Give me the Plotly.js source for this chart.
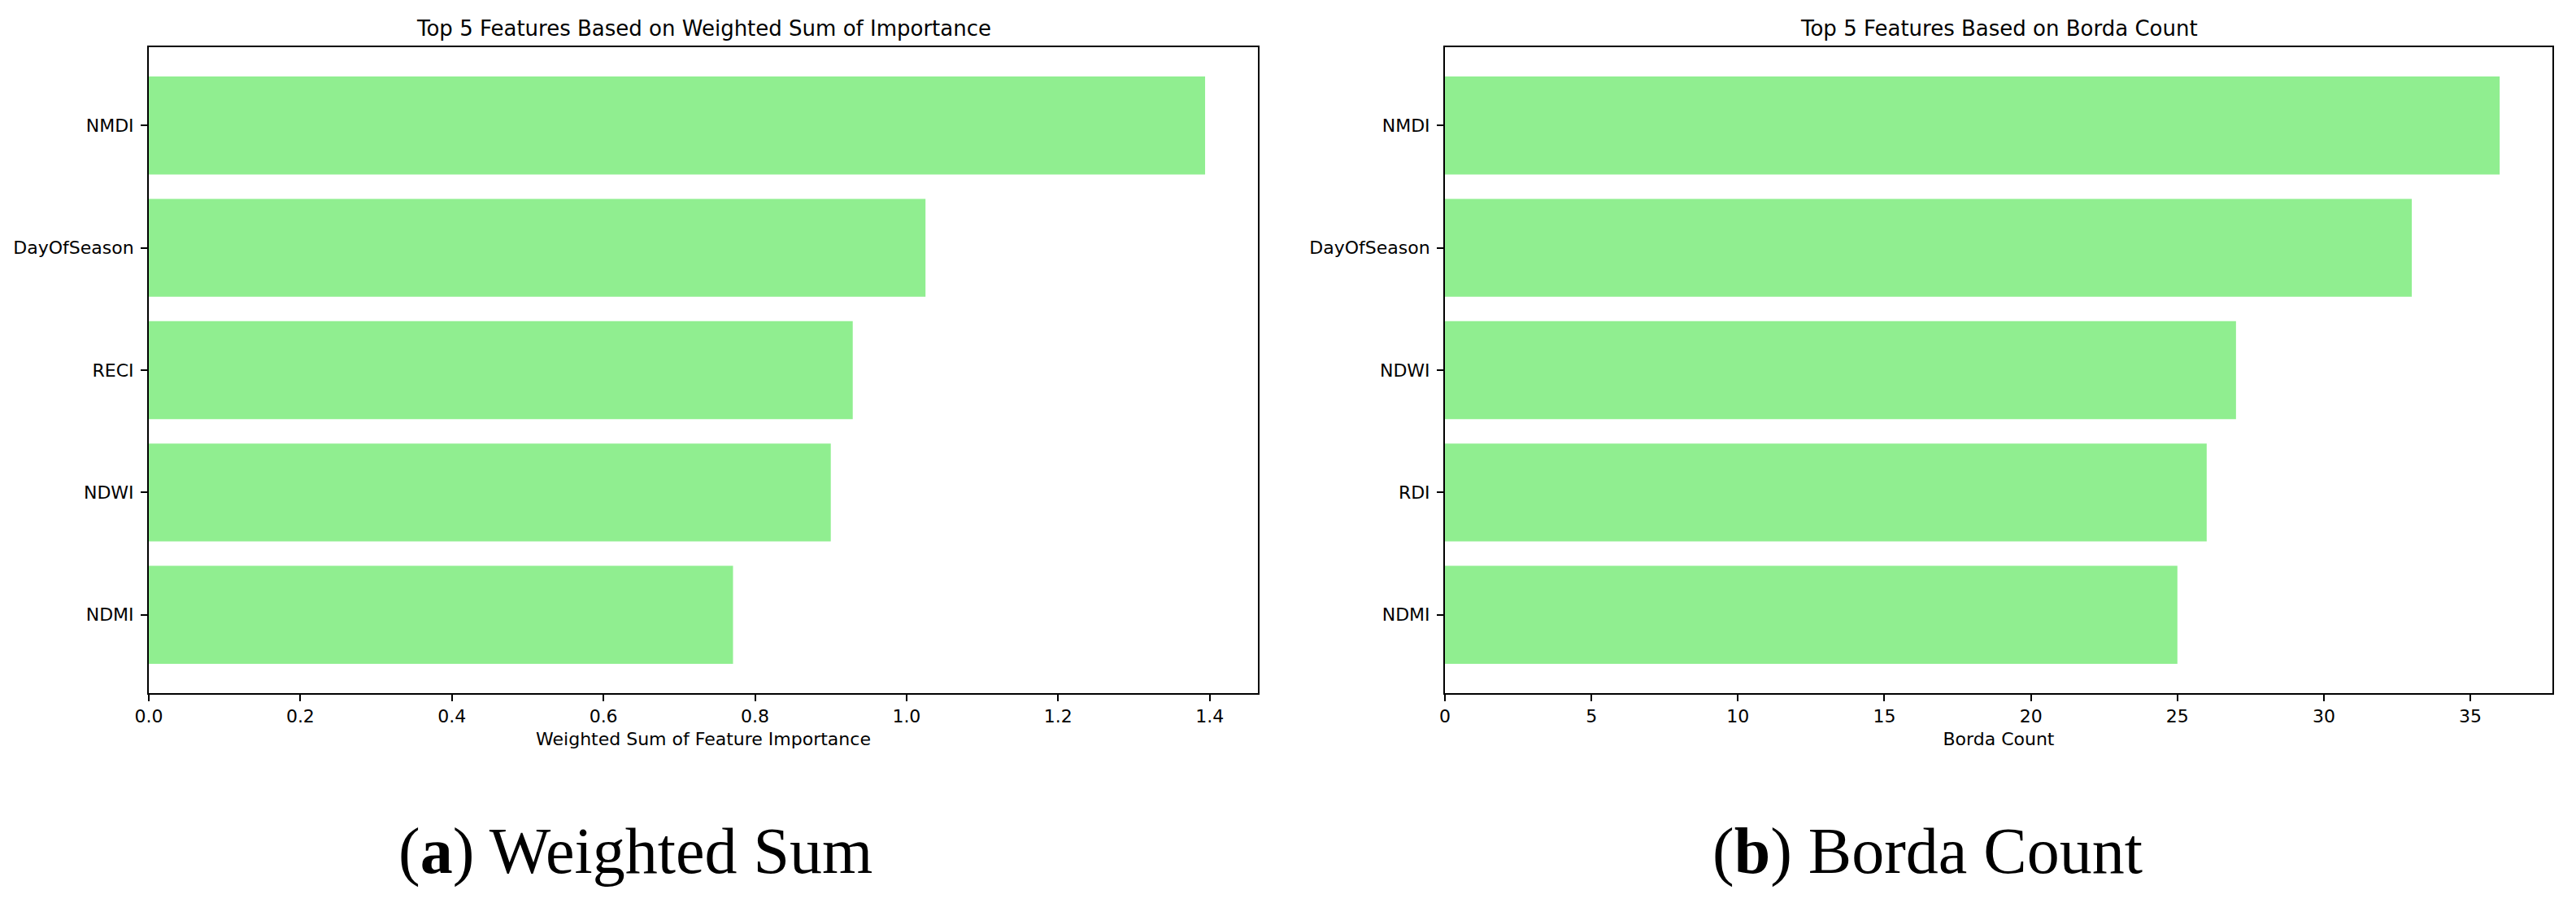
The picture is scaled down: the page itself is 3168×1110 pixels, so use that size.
<!DOCTYPE html>
<html>
<head>
<meta charset="utf-8">
<script src="https://cdn.plot.ly/plotly-3.0.1.min.js"></script>
<style>html,body{margin:0;padding:0;background:#fff;}#chart{width:3168px;height:1110px;}</style>
</head>
<body>
<div id="chart"></div>
<script>
// Data (top-to-bottom order as drawn)
const wsFeatures = ['NMDI', 'DayOfSeason', 'RECI', 'NDWI', 'NDMI'];
const wsValues = [1.394, 1.025, 0.929, 0.900, 0.771];
const bordaFeatures = ['NMDI', 'DayOfSeason', 'NDWI', 'RDI', 'NDMI'];
const bordaValues = [36, 33, 27, 26, 25];
const wsTicks = [0, 0.2, 0.4, 0.6, 0.8, 1.0, 1.2, 1.4];
const bordaTicks = [0, 5, 10, 15, 20, 25, 30, 35];
const titles = ['Top 5 Features Based on Weighted Sum of Importance', 'Top 5 Features Based on Borda Count'];
const xTitles = ['Weighted Sum of Feature Importance', 'Borda Count'];
const captions = ['(<b>a</b>) Weighted Sum', '(<b>b</b>) Borda Count'];

const W = 3168, H = 1110;
const barColor = '#90EE90';
const font = 'DejaVu Sans, sans-serif';

const traces = [
  {type: 'bar', orientation: 'h', x: wsValues, y: wsFeatures, xaxis: 'x', yaxis: 'y',
   marker: {color: barColor, line: {width: 0}}, hoverinfo: 'x+y'},
  {type: 'bar', orientation: 'h', x: bordaValues, y: bordaFeatures, xaxis: 'x2', yaxis: 'y2',
   marker: {color: barColor, line: {width: 0}}, hoverinfo: 'x+y'}
];

const dom1 = [183 / W, 1547 / W];
const dom2 = [1777 / W, 3139 / W];
const ydom = [(H - 852) / H, (H - 58) / H];

function xaxis(domain, ticks, maxVal, fmt, anchor, title) {
  return {
    domain: domain, anchor: anchor, range: [0, maxVal * 1.05],
    tickmode: 'array', tickvals: ticks, ticktext: ticks.map(v => fmt(v)),
    ticks: 'outside', ticklen: 8, tickwidth: 2, tickcolor: '#000',
    showline: true, linecolor: '#000', linewidth: 2, mirror: true,
    showgrid: false, zeroline: false, automargin: false,
    tickfont: {family: font, size: 22, color: '#000'},
    title: {text: title, font: {family: font, size: 22, color: '#000'}, standoff: 8}
  };
}
function yaxis(cats, anchor) {
  return {
    domain: ydom, anchor: anchor, type: 'category',
    categoryorder: 'array', categoryarray: cats,
    range: [cats.length - 1 + 0.64, -0.64],
    ticks: 'outside', ticklen: 8, tickwidth: 2, tickcolor: '#000',
    ticklabelstandoff: 4,
    showline: true, linecolor: '#000', linewidth: 2, mirror: true,
    showgrid: false, zeroline: false, automargin: false,
    tickfont: {family: font, size: 22, color: '#000'}
  };
}

const layout = {
  width: W, height: H,
  margin: {l: 0, r: 0, t: 0, b: 0},
  paper_bgcolor: '#fff', plot_bgcolor: '#fff',
  showlegend: false, bargap: 0.2,
  xaxis: xaxis(dom1, wsTicks, Math.max(...wsValues), v => v.toFixed(1), 'y', xTitles[0]),
  yaxis: yaxis(wsFeatures, 'x'),
  xaxis2: xaxis(dom2, bordaTicks, Math.max(...bordaValues), v => String(v), 'y2', xTitles[1]),
  yaxis2: yaxis(bordaFeatures, 'x2'),
  annotations: [
    {text: titles[0], xref: 'paper', yref: 'paper', x: (dom1[0] + dom1[1]) / 2, y: (H - 35) / H,
     xanchor: 'center', yanchor: 'middle', showarrow: false, font: {family: font, size: 26, color: '#000'}},
    {text: titles[1], xref: 'paper', yref: 'paper', x: (dom2[0] + dom2[1]) / 2, y: (H - 35) / H,
     xanchor: 'center', yanchor: 'middle', showarrow: false, font: {family: font, size: 26, color: '#000'}},
    {text: captions[0], xref: 'paper', yref: 'paper', x: 0.2467, y: (H - 1046) / H,
     xanchor: 'center', yanchor: 'middle', showarrow: false, font: {family: 'Liberation Serif, serif', size: 80, color: '#000'}},
    {text: captions[1], xref: 'paper', yref: 'paper', x: 0.7484, y: (H - 1046) / H,
     xanchor: 'center', yanchor: 'middle', showarrow: false, font: {family: 'Liberation Serif, serif', size: 80, color: '#000'}}
  ]
};

Plotly.newPlot('chart', traces, layout, {staticPlot: true, displayModeBar: false});
</script>
</body>
</html>
